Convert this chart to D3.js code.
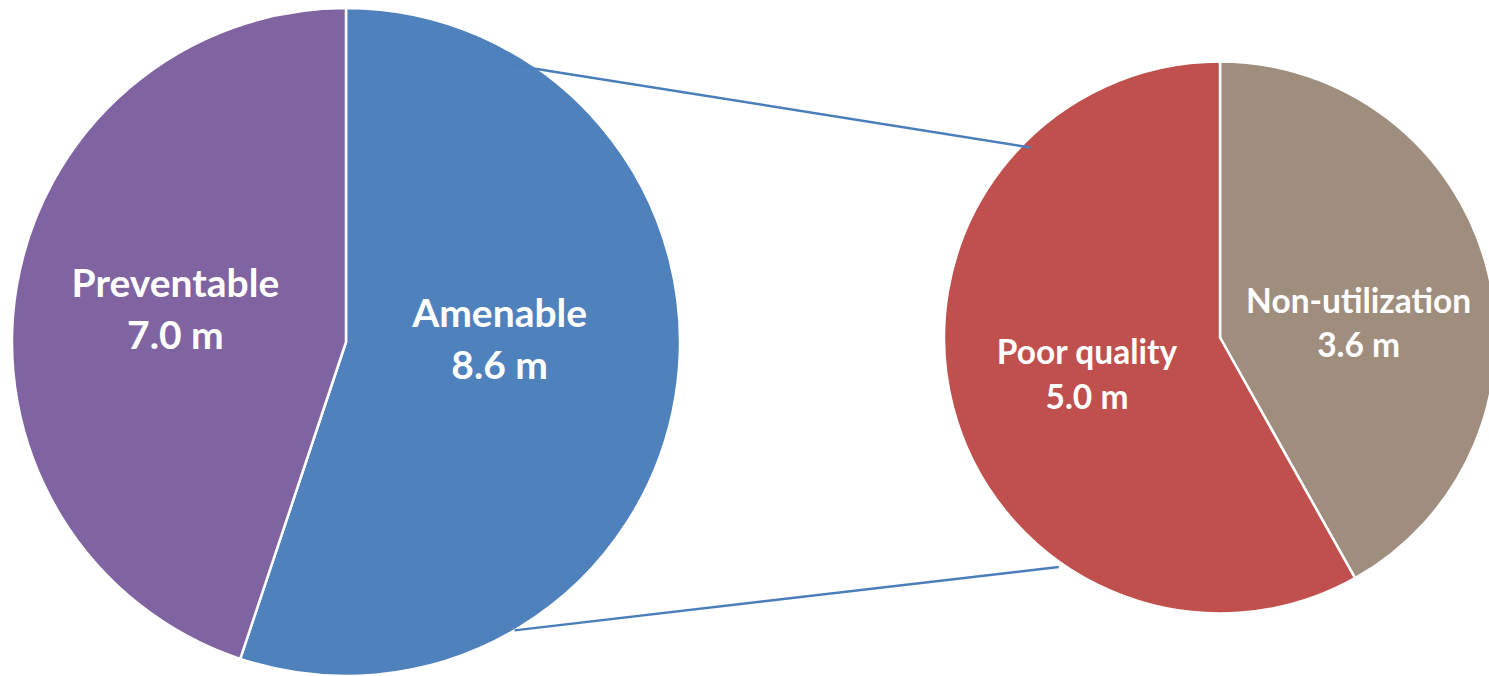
<!DOCTYPE html>
<html>
<head>
<meta charset="utf-8">
<script src="https://cdn.jsdelivr.net/npm/d3@7"></script>
<style>
  html, body { margin: 0; padding: 0; background: #ffffff; }
  svg { display: block; }
  text { font-family: Lato, "Open Sans", sans-serif; font-weight: 700; fill: #ffffff; }
</style>
</head>
<body>
<svg id="chart" width="1489" height="676"></svg>
<script>
// Primary pie: deaths split into amenable and preventable (millions)
const mainCategories = ["Amenable", "Preventable"];
const mainValues = [8.6, 7.0];
const mainColors = ["#4F81BD", "#8064A2"];

// Secondary pie: breakdown of the amenable slice (millions)
const subCategories = ["Non-utilization", "Poor quality"];
const subValues = [3.6, 5.0];
const subColors = ["#9F8E7E", "#C0504D"];

const unit = "m";

const svg = d3.select("#chart");

// Layout of each pie; labels sit near the slice centroid, turned slightly
// toward the horizontal so they fit the wide text
const big = {
  cx: 346, cy: 342, r: 334, font: 39,
  labelRadius: [0.46, 0.52], labelTurn: [-10.3, 1.6]
};
const small = {
  cx: 1220, cy: 337.5, r: 276, font: 33.5,
  labelRadius: [0.505, 0.50], labelTurn: [8.7, -0.8]
};

const pie = d3.pie().sort(null).value(d => d.value);

function drawPie(cfg, cats, vals, colors) {
  const data = cats.map((c, i) => ({ name: c, value: vals[i], color: colors[i] }));
  const arcs = pie(data);
  const arc = d3.arc().innerRadius(0).outerRadius(cfg.r);

  const g = svg.append("g").attr("transform", `translate(${cfg.cx},${cfg.cy})`);
  g.selectAll("path.slice")
    .data(arcs)
    .join("path")
    .attr("class", "slice")
    .attr("d", arc)
    .attr("fill", d => d.data.color)
    .attr("stroke", "#ffffff")
    .attr("stroke-width", 2.5)
    .attr("stroke-linejoin", "round");

  const f = cfg.font;
  const lineGap = 1.33 * f;
  const capH = 0.72 * f;
  const firstBaseline = -(capH + lineGap) / 2 + capH;

  const lab = g.selectAll("text.lbl")
    .data(arcs)
    .join("text")
    .attr("class", "lbl")
    .attr("text-anchor", "middle")
    .attr("font-size", f)
    .attr("transform", (d, i) => {
      const mid = (d.startAngle + d.endAngle) / 2 + cfg.labelTurn[i] * Math.PI / 180;
      const rr = cfg.r * cfg.labelRadius[i];
      return `translate(${Math.sin(mid) * rr},${-Math.cos(mid) * rr})`;
    });
  lab.append("tspan")
    .attr("x", 0)
    .attr("y", firstBaseline)
    .text(d => d.data.name);
  lab.append("tspan")
    .attr("x", 0)
    .attr("y", firstBaseline + lineGap)
    .text(d => d3.format(".1f")(d.data.value) + " " + unit);
}

drawPie(big, mainCategories, mainValues, mainColors);
drawPie(small, subCategories, subValues, subColors);

// Connector lines between the amenable slice and the breakdown pie
function polar(cfg, deg, k) {
  const a = deg * Math.PI / 180;
  return [cfg.cx + Math.sin(a) * cfg.r * k, cfg.cy - Math.cos(a) * cfg.r * k];
}
const connectors = [
  [polar(big, 31.1, 0.968), polar(small, 315.1, 0.972)],
  [polar(big, 149.7, 1.0), polar(small, 215.1, 1.016)]
];
svg.selectAll("line.connector")
  .data(connectors)
  .join("line")
  .attr("class", "connector")
  .attr("x1", d => d[0][0]).attr("y1", d => d[0][1])
  .attr("x2", d => d[1][0]).attr("y2", d => d[1][1])
  .attr("stroke", "#4A7EBB")
  .attr("stroke-width", 2.5);
</script>
</body>
</html>
